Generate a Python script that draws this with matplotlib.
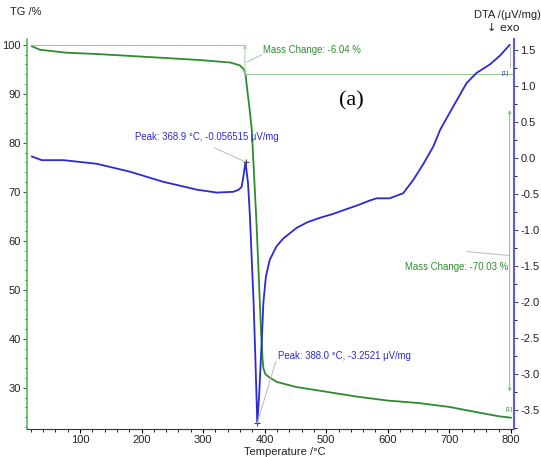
"""
TG / DTA curves for sample (a): mass loss (left axis) and DTA signal (right axis)
versus temperature, with the instrument's peak and mass-change annotations.
"""
import matplotlib
matplotlib.use("Agg")
import matplotlib.pyplot as plt
from matplotlib.ticker import MultipleLocator

plt.rcParams["font.family"] = ["Liberation Sans Narrow", "Liberation Sans", "DejaVu Sans"]
plt.rcParams["axes.unicode_minus"] = False

# TG curve (%)
tg_temp = [22, 35, 78, 132, 214, 295, 344, 360, 366, 369, 372, 375, 379, 383, 387,
           391, 394, 396.5, 398, 401, 408, 420, 450, 500, 550, 600, 650, 700, 750,
           780, 800]
tg_val = [99.7, 99.0, 98.4, 98.1, 97.5, 96.9, 96.4, 95.8, 95.0, 93.9, 90.5, 87.5,
          82.9, 73.0, 63.0, 51.0, 42.0, 36.0, 34.0, 32.8, 32.1, 31.2, 30.2, 29.2,
          28.2, 27.4, 26.9, 26.1, 24.9, 24.2, 23.9]

# DTA curve (uV/mg)
dta_temp = [22, 38, 73, 127, 181, 235, 290, 322, 349, 358, 362.6, 365, 368.9,
            373, 376, 379, 382, 385, 388, 391, 395, 398, 402, 408, 419, 430, 452,
            470, 490, 510, 533, 550, 571, 582, 603, 625, 641, 658, 674, 685, 706,
            728, 744, 755, 766, 782, 798]
dta_val = [0.02, -0.03, -0.03, -0.08, -0.19, -0.33, -0.44, -0.48, -0.47, -0.44,
           -0.40, -0.28, -0.056, -0.35, -0.8, -1.4, -2.0, -2.8, -3.68, -3.3, -2.6,
           -2.0, -1.65, -1.42, -1.23, -1.12, -0.97, -0.89, -0.83, -0.78, -0.71,
           -0.66, -0.59, -0.56, -0.56, -0.49, -0.31, -0.08, 0.16, 0.39, 0.71, 1.04,
           1.18, 1.24, 1.30, 1.42, 1.57]

# peak markers and mass-change steps
peak_temp = [368.9, 388.0]
peak_val = [-0.056, -3.68]
step1 = (368, 100.0, 93.96)   # T, from, to
step2 = (798, 86.7, 29.2)

GREEN = "#2e8b2e"
BLUE = "#2a2ad8"
PALE_GREEN = "#9ccc9c"
LEADER = "#b8b8c8"

fig = plt.figure(figsize=(5.41, 4.57), dpi=100)
ax1 = fig.add_axes([0.050, 0.0613, 0.900, 0.8534])
ax2 = ax1.twinx()

ax1.plot(tg_temp, tg_val, color=GREEN, lw=1.3)
ax2.plot(dta_temp, dta_val, color=BLUE, lw=1.3)
ax2.plot(peak_temp, peak_val, "+", color="#404060", ms=5, mew=0.8)

ax1.set_xlim(14, 805)
ax1.set_ylim(21.6, 101.2)
ax2.set_ylim(-3.764, 1.653)

# mass change -6.04 %
ax1.plot([22, step1[0]], [step1[1], step1[1]], color=PALE_GREEN, lw=0.8)
ax1.plot([step1[0], 805], [step1[2], step1[2]], color=PALE_GREEN, lw=0.8)
ax1.annotate("", xy=(step1[0], step1[2]), xytext=(step1[0], step1[1]),
             arrowprops=dict(arrowstyle="<->", color=PALE_GREEN, lw=0.7,
                             shrinkA=0, shrinkB=0, mutation_scale=5))
ax1.plot([371.5, 395.6], [96.5, 98.0], color=LEADER, lw=0.7)
ax1.text(397, 99.0, "Mass Change: -6.04 %", color=GREEN, fontsize=6.9, va="center")

# mass change -70.03 %
ax1.annotate("", xy=(step2[0], step2[2]), xytext=(step2[0], step2[1]),
             arrowprops=dict(arrowstyle="<->", color="#7cbc7c", lw=0.7,
                             shrinkA=0, shrinkB=0, mutation_scale=5))
ax1.plot([728.5, 798], [57.8, 57.0], color=LEADER, lw=0.7)
ax1.text(796, 54.7, "Mass Change: -70.03 %", color=GREEN, fontsize=6.9,
         va="center", ha="right")
ax1.text(796.5, 25.5, "[1]", color=GREEN, fontsize=4.5, ha="center", va="center")

# peak labels
ax2.plot([319, 368.9], [0.14, -0.056], color=LEADER, lw=0.7)
ax2.text(189, 0.29, "Peak: 368.9 °C, -0.056515 μV/mg", color=BLUE, fontsize=6.9,
         va="center")
ax2.plot([418, 388.0], [-2.83, -3.68], color=LEADER, lw=0.7)
ax2.text(421.6, -2.75, "Peak: 388.0 °C, -3.2521 μV/mg", color=BLUE, fontsize=6.9,
         va="center")
ax2.plot([798, 798], [1.54, 1.27], color=LEADER, lw=0.7)
ax2.text(790, 1.18, "[1]", color=BLUE, fontsize=4.5, ha="center", va="center")

ax1.text(541, 88.6, "(a)", fontsize=16, family=["Liberation Serif", "DejaVu Serif"],
         ha="center", va="center")

# axes styling
for a in (ax1, ax2):
    a.spines["top"].set_visible(False)
ax1.spines["right"].set_visible(False)
ax2.spines["left"].set_visible(False)
ax2.spines["bottom"].set_visible(False)
ax1.spines["left"].set_color("#5cb85c")
ax1.spines["left"].set_linewidth(1.2)
ax2.spines["right"].set_color("#5a5af0")
ax2.spines["right"].set_linewidth(1.5)
ax1.spines["bottom"].set_color("#333333")

ax1.xaxis.set_minor_locator(MultipleLocator(20))
ax1.yaxis.set_minor_locator(MultipleLocator(2))
ax2.yaxis.set_minor_locator(MultipleLocator(0.25))
ax1.set_xticks([100, 200, 300, 400, 500, 600, 700, 800])
ax1.set_yticks([30, 40, 50, 60, 70, 80, 90, 100])
ax2.set_yticks([-3.5, -3.0, -2.5, -2.0, -1.5, -1.0, -0.5, 0.0, 0.5, 1.0, 1.5])

for a in (ax1, ax2):
    a.tick_params(which="major", direction="out", length=3, width=0.8,
                  labelsize=8, labelcolor="#222222", pad=1.5)
    a.tick_params(which="minor", direction="out", length=1.8, width=0.6)
ax1.tick_params(axis="y", colors="#555555", labelcolor="#222222")
ax2.tick_params(axis="y", colors="#555555", labelcolor="#222222")

fig.text(10 / 541, 1 - 12 / 457, "TG /%", fontsize=8, va="center", color="#222222")
fig.text(0.999, 1 - 15 / 457, "DTA /(μV/mg)", fontsize=8, va="center", ha="right",
         color="#222222")
fig.text(487 / 541, 1 - 28 / 457, "↓ exo", fontsize=8, va="center",
         family=["Liberation Sans Narrow", "DejaVu Sans"], color="#222222")
fig.text(0.527, 1 - 452 / 457, "Temperature /°C", fontsize=8, ha="center",
         va="center", color="#222222")

fig.savefig("out.png", dpi=100, facecolor="white")
